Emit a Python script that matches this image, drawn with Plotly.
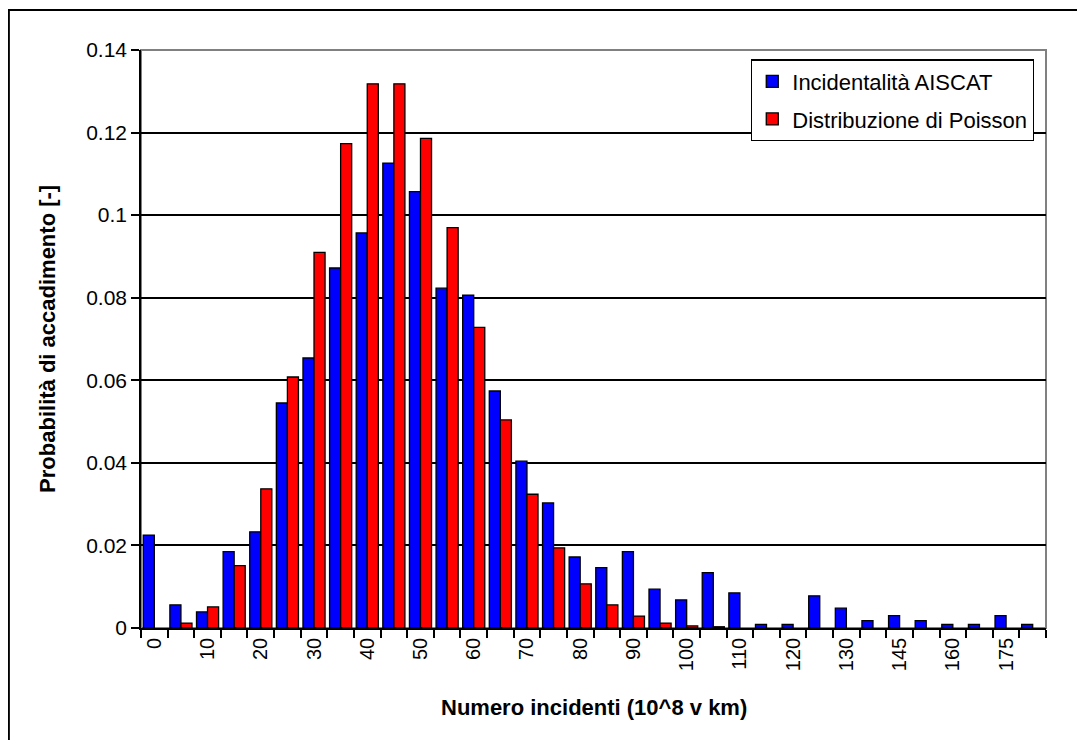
import plotly.graph_objects as go

# Categories (numero incidenti) and probabilities
categorie = ['0', '5', '10', '15', '20', '25', '30', '35', '40', '45', '50', '55',
             '60', '65', '70', '75', '80', '85', '90', '95', '100', '105', '110',
             '115', '120', '125', '130', '135', '145', '150', '160', '165', '175', '190']
etichette = ['0', '', '10', '', '20', '', '30', '', '40', '', '50', '',
             '60', '', '70', '', '80', '', '90', '', '100', '', '110',
             '', '120', '', '130', '', '145', '', '160', '', '175', '']

aiscat = [0.0225, 0.0056, 0.0039, 0.0185, 0.0233, 0.0545, 0.0654, 0.0872, 0.0957,
          0.1126, 0.1057, 0.0823, 0.0806, 0.0574, 0.0404, 0.0303, 0.0172, 0.0146,
          0.0185, 0.0094, 0.0068, 0.0134, 0.0085, 0.0009, 0.0009, 0.0078, 0.0048,
          0.0018, 0.0030, 0.0018, 0.0009, 0.0009, 0.0030, 0.0009]
poisson = [None, 0.0012, 0.0051, 0.0151, 0.0337, 0.0608, 0.0910, 0.1173, 0.1318,
           0.1318, 0.1186, 0.0970, 0.0728, 0.0504, 0.0324, 0.0194, 0.0107, 0.0056,
           0.0029, 0.0012, 0.0005, 0.0003, None, None, None, None, None,
           None, None, None, None, None, None, None]

y_ticks = [0, 0.02, 0.04, 0.06, 0.08, 0.1, 0.12, 0.14]
y_labels = ['0', '0.02', '0.04', '0.06', '0.08', '0.1', '0.12', '0.14']

FONT = 'Liberation Sans, Arial, sans-serif'

fig = go.Figure()
fig.add_trace(go.Bar(
    x=categorie, y=aiscat, name='Incidentalità AISCAT',
    marker=dict(color='#0000FF', line=dict(color='black', width=1.3)),
    legendgroup='a'
))
fig.add_trace(go.Bar(
    x=categorie, y=poisson, name='Distribuzione di Poisson',
    marker=dict(color='#FF0000', line=dict(color='black', width=1.3)),
    legendgroup='b'
))

fig.update_layout(
    width=1077,   # page has an 8px body margin
    height=732,
    margin=dict(l=133, r=39, t=42, b=112),
    plot_bgcolor='white',
    paper_bgcolor='white',
    font=dict(family=FONT, size=21, color='black'),
    barmode='group',
    bargap=0.17,
    bargroupgap=0,
    showlegend=True,
    legend=dict(
        x=0.674, y=0.984, xanchor='left', yanchor='top',
        bgcolor='white', bordercolor='black', borderwidth=1.3,
        font=dict(size=22), tracegroupgap=6, traceorder='grouped'
    ),
    xaxis=dict(
        type='category',
        tickmode='array', tickvals=categorie, ticktext=etichette,
        tickangle=-90, tickson='boundaries',
        ticks='outside', ticklen=8, tickcolor='black', tickwidth=1.5,
        showline=True, linecolor='black', linewidth=1.5,
        showgrid=False, zeroline=False,
        tickfont=dict(size=20)
    ),
    yaxis=dict(
        range=[0, 0.14],
        tickmode='array', tickvals=y_ticks, ticktext=y_labels,
        ticks='outside', ticklen=8, tickcolor='black', tickwidth=1.5,
        showline=True, linecolor='black', linewidth=1.5,
        showgrid=True, gridcolor='black', gridwidth=1.5,
        zeroline=False, tickfont=dict(size=21)
    ),
    shapes=[
        # grey plot-area frame
        dict(type='rect', xref='paper', yref='paper', x0=0, y0=0, x1=1, y1=1,
             line=dict(color='#808080', width=2), layer='below'),
        # outer chart frame
        dict(type='rect', xref='paper', yref='paper', x0=-0.146, y0=-0.21,
             x1=1.05, y1=1.069, line=dict(color='black', width=2))
    ],
    annotations=[
        dict(text='<b>Probabilità di accadimento [-]</b>', xref='paper', yref='paper',
             x=-0.104, y=0.5, textangle=-90, showarrow=False,
             font=dict(size=22), xanchor='center', yanchor='middle'),
        dict(text='<b>Numero incidenti (10^8 v km)</b>', xref='paper', yref='paper',
             x=0.5, y=-0.137, showarrow=False,
             font=dict(size=22), xanchor='center', yanchor='middle')
    ]
)

fig.write_html('out.html')
